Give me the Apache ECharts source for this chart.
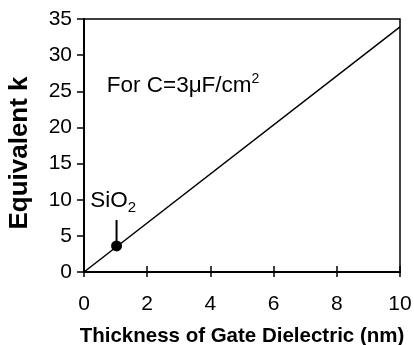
<!DOCTYPE html>
<html>
<head>
<meta charset="utf-8">
<script src="https://cdn.jsdelivr.net/npm/echarts@6/dist/echarts.min.js"></script>
<style>
  html, body { margin: 0; padding: 0; background: #fff; }
  #chart { width: 414px; height: 345px; }
</style>
</head>
<body>
<div id="chart"></div>
<script>
// data
var thickness = [0, 10];
var kValues = [0, 33.9];
var sio2Point = [1.03, 3.6];
var sio2Pointer = [[1.03, 3.6], [1.03, 7.2]];
var sio2LabelPos = [0.2, 9.8];
var noteLabelPos = [0.72, 25.8];
var xTicks = [0, 2, 4, 6, 8, 10];
var yTicks = [0, 5, 10, 15, 20, 25, 30, 35];

var fontName = '"Liberation Sans", Arial, sans-serif';
var dom = document.getElementById('chart');
var myChart = echarts.init(dom);

var lineData = [];
for (var i = 0; i < thickness.length; i++) {
    lineData.push([thickness[i], kValues[i]]);
}

option = {
    animation: false,
    textStyle: { fontFamily: fontName, color: '#000' },
    grid: {
        left: 84, right: 14, top: 19, bottom: 73,
        outerBoundsMode: 'none',
        containLabel: false,
        show: true,
        borderColor: '#000',
        borderWidth: 1.5
    },
    xAxis: [{
        type: 'value',
        min: xTicks[0], max: xTicks[xTicks.length - 1], interval: 2,
        name: 'Thickness of Gate Dielectric (nm)',
        nameLocation: 'middle',
        nameGap: 54,
        nameTextStyle: { fontSize: 20.5, fontWeight: 'bold', color: '#000', fontFamily: fontName },
        axisLine: { lineStyle: { color: '#000', width: 2 } },
        axisTick: { show: true, length: 5, lineStyle: { color: '#000', width: 1.5 } },
        axisLabel: { fontSize: 21, color: '#000', margin: 22, fontFamily: fontName },
        splitLine: { show: false }
    }, {
        // inner half of the crossing x ticks
        type: 'value',
        position: 'bottom',
        min: xTicks[0], max: xTicks[xTicks.length - 1], interval: 2,
        axisLine: { show: false },
        axisTick: { show: true, inside: true, length: 6, lineStyle: { color: '#000', width: 1.5 } },
        axisLabel: { show: false },
        splitLine: { show: false }
    }],
    yAxis: {
        type: 'value',
        min: yTicks[0], max: yTicks[yTicks.length - 1], interval: 5,
        name: 'Equivalent k',
        nameLocation: 'middle',
        nameGap: 51,
        nameTextStyle: { fontSize: 26, fontWeight: 'bold', color: '#000', fontFamily: fontName, padding: [0, 15, 0, 0] },
        axisLine: { lineStyle: { color: '#000', width: 2 } },
        axisTick: { show: true, length: 7, lineStyle: { color: '#000', width: 1.5 } },
        axisLabel: { fontSize: 21, color: '#000', margin: 12, fontFamily: fontName },
        splitLine: { show: false }
    },
    series: [
        {
            type: 'line',
            data: lineData,
            symbol: 'none',
            lineStyle: { color: '#000', width: 1.5 }
        },
        {
            type: 'line',
            data: sio2Pointer,
            symbol: 'none',
            lineStyle: { color: '#000', width: 2 }
        },
        {
            type: 'scatter',
            data: [sio2Point],
            symbol: 'circle',
            symbolSize: 11,
            itemStyle: { color: '#000', opacity: 1 }
        },
        {
            type: 'scatter',
            symbolSize: 0,
            itemStyle: { opacity: 1 },
            data: [
                { value: sio2LabelPos, label: { formatter: '{t|SiO}{sub|2}' } },
                { value: noteLabelPos, label: { formatter: '{t|For C=3\u03bcF/cm}{sup|2}' } }
            ],
            label: {
                show: true,
                position: 'right',
                distance: 0,
                color: '#000',
                fontSize: 22,
                fontFamily: fontName,
                rich: {
                    t: { fontSize: 22.5, fontFamily: fontName, color: '#000' },
                    sub: { fontSize: 15, fontFamily: fontName, color: '#000', padding: [14, 0, 0, 0] },
                    sup: { fontSize: 14, fontFamily: fontName, color: '#000', padding: [0, 0, 12, 0] }
                }
            },
            emphasis: { disabled: true }
        }
    ]
};
myChart.setOption(option);
</script>
</body>
</html>
